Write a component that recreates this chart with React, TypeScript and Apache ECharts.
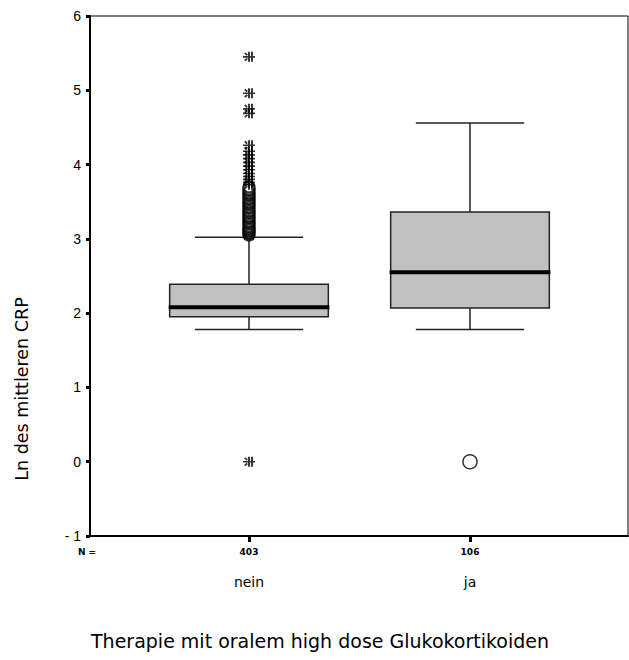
import React, { useEffect, useRef } from "react";
import * as echarts from "echarts";

// Groups on the x axis and their case counts
const categories = ["nein", "ja"];
const caseCounts = [403, 106];

// Box statistics per group (Ln of mean CRP)
const whiskerLow = [1.78, 1.78];
const quartile1 = [1.95, 2.07];
const medians = [2.08, 2.55];
const quartile3 = [2.39, 3.36];
const whiskerHigh = [3.02, 4.56];

// Outliers (circles) and extremes (asterisks)
const neinOutliers = [
  3.05, 3.07, 3.09, 3.11, 3.13, 3.15, 3.17, 3.2, 3.22, 3.24, 3.27, 3.29, 3.31, 3.34, 3.36,
  3.38, 3.41, 3.43, 3.46, 3.48, 3.5, 3.53, 3.55, 3.58, 3.6, 3.62, 3.65, 3.67, 3.7,
];
const neinExtremes = [0.0, 3.73, 3.76, 3.8, 3.84, 3.88, 3.93, 3.98, 4.03, 4.08, 4.13, 4.18, 4.26, 4.69, 4.75, 4.96, 5.45];
const jaOutliers = [0.0];

// Y axis ticks
const yMin = -1;
const yMax = 6;
const yStep = 1;

const FONT = "'DejaVu Sans', 'Liberation Sans', Arial, sans-serif";
const TICK_FONT = "'Liberation Sans', Arial, sans-serif";
const ASTERISK =
  "path://M0,5L10,5M5,0.5L5,9.5M7.5,0.5L7.5,9.5M1.5,1.5L3.5,3.5M1.5,8.5L3.5,6.5";

export default function App() {
  const ref = useRef<HTMLDivElement>(null);

  useEffect(() => {
    if (!ref.current) return;
    const chart = echarts.init(ref.current, null, { renderer: "svg" });

    const boxData = categories.map((_, i) => [
      i,
      whiskerLow[i],
      quartile1[i],
      medians[i],
      quartile3[i],
      whiskerHigh[i],
    ]);

    const renderBox = (params: any, api: any) => {
      const idx = api.value(0);
      const band = api.size([1, 0])[0];
      const cx = api.coord([idx, 0])[0];
      const y = (v: number) => api.coord([idx, v])[1];
      const boxHalf = band * 0.359;
      const capHalf = band * 0.245;
      const lo = y(api.value(1));
      const q1 = y(api.value(2));
      const med = y(api.value(3));
      const q3 = y(api.value(4));
      const hi = y(api.value(5));
      const lineStyle = { stroke: "#222", lineWidth: 1.5 };
      return {
        type: "group",
        children: [
          { type: "line", shape: { x1: cx, y1: q1, x2: cx, y2: lo }, style: lineStyle },
          { type: "line", shape: { x1: cx, y1: q3, x2: cx, y2: hi }, style: lineStyle },
          { type: "line", shape: { x1: cx - capHalf, y1: lo, x2: cx + capHalf, y2: lo }, style: lineStyle },
          { type: "line", shape: { x1: cx - capHalf, y1: hi, x2: cx + capHalf, y2: hi }, style: lineStyle },
          {
            type: "rect",
            shape: { x: cx - boxHalf, y: q3, width: boxHalf * 2, height: q1 - q3 },
            style: { fill: "#c0c0c0", stroke: "#222", lineWidth: 1.5 },
          },
          {
            type: "line",
            shape: { x1: cx - boxHalf - 1, y1: med, x2: cx + boxHalf + 1, y2: med },
            style: { stroke: "#000", lineWidth: 4 },
          },
        ],
      };
    };

    chart.setOption({
      animation: false,
      backgroundColor: "#fff",
      grid: [
        { left: 90, top: 16, right: 1, bottom: 124, show: true, borderColor: "#000", borderWidth: 1 },
        { left: 138.5, top: 16, width: 442, bottom: 124 },
      ],
      xAxis: [
        {
          gridIndex: 0,
          type: "value",
          min: 0,
          max: 1,
          axisLine: { show: true, onZero: false, lineStyle: { color: "#000", width: 2 } },
          axisTick: { show: false },
          axisLabel: { show: false },
          splitLine: { show: false },
        },
        {
          gridIndex: 1,
          type: "category",
          data: categories,
          axisLine: { show: false, onZero: false },
          axisTick: { show: true, alignWithLabel: true, length: 6, lineStyle: { color: "#000", width: 3 } },
          axisLabel: {
            margin: 10,
            interval: 0,
            formatter: (v: string, i: number) => `{n|${caseCounts[i]}}\n{c|${v}}`,
            rich: {
              n: { fontFamily: FONT, fontSize: 9, fontWeight: "bold", color: "#000", lineHeight: 12 },
              c: { fontFamily: FONT, fontSize: 14, color: "#000", lineHeight: 48 },
            },
          },
          splitLine: { show: false },
        },
      ],
      yAxis: [
        {
          gridIndex: 0,
          type: "value",
          min: yMin,
          max: yMax,
          interval: yStep,
          axisLine: { show: true, onZero: false, lineStyle: { color: "#000", width: 2 } },
          axisTick: { show: true, length: 4, lineStyle: { color: "#000", width: 3 } },
          axisLabel: {
            color: "#000",
            fontFamily: TICK_FONT,
            fontSize: 14,
            margin: 9,
            formatter: (v: number) => (v < 0 ? `- ${Math.abs(v)}` : `${v}`),
          },
          splitLine: { show: false },
        },
        {
          gridIndex: 1,
          type: "value",
          min: yMin,
          max: yMax,
          show: false,
          splitLine: { show: false },
        },
      ],
      series: [
        {
          type: "custom",
          xAxisIndex: 1,
          yAxisIndex: 1,
          renderItem: renderBox,
          data: boxData,
          encode: { x: 0, y: [1, 2, 3, 4, 5] },
        },
        {
          type: "scatter",
          xAxisIndex: 1,
          yAxisIndex: 1,
          symbol: "circle",
          symbolSize: 11,
          itemStyle: { color: "#fff", borderColor: "#000", borderWidth: 2.2 },
          data: neinOutliers.map((v) => [categories[0], v]),
        },
        {
          type: "scatter",
          xAxisIndex: 1,
          yAxisIndex: 1,
          symbol: "circle",
          symbolSize: 14,
          itemStyle: { color: "#fff", borderColor: "#000", borderWidth: 1.5 },
          data: jaOutliers.map((v) => [categories[1], v]),
        },
        {
          type: "scatter",
          xAxisIndex: 1,
          yAxisIndex: 1,
          symbol: ASTERISK,
          symbolSize: [12, 10],
          itemStyle: { color: "rgba(0,0,0,0)", borderColor: "#000", borderWidth: 1.8 },
          data: neinExtremes.map((v) => [categories[0], v]),
        },
      ],
      graphic: [
        {
          type: "text",
          x: 22,
          y: 389,
          rotation: Math.PI / 2,
          style: {
            text: "Ln des mittleren CRP",
            font: `17.5px ${FONT}`,
            fill: "#000",
            textAlign: "center",
            textVerticalAlign: "middle",
          },
        },
        {
          type: "text",
          x: 320,
          y: 641,
          style: {
            text: "Therapie mit oralem high dose Glukokortikoiden",
            font: `19px ${FONT}`,
            fill: "#000",
            textAlign: "center",
            textVerticalAlign: "middle",
          },
        },
        {
          type: "text",
          x: 87,
          y: 552,
          style: {
            text: "N =",
            font: `bold 9px ${FONT}`,
            fill: "#000",
            textAlign: "center",
            textVerticalAlign: "middle",
          },
        },
      ],
    });

    return () => chart.dispose();
  }, []);

  return (
    <div
      ref={ref}
      style={{ position: "absolute", left: 0, top: 0, width: 629, height: 660 }}
    />
  );
}
